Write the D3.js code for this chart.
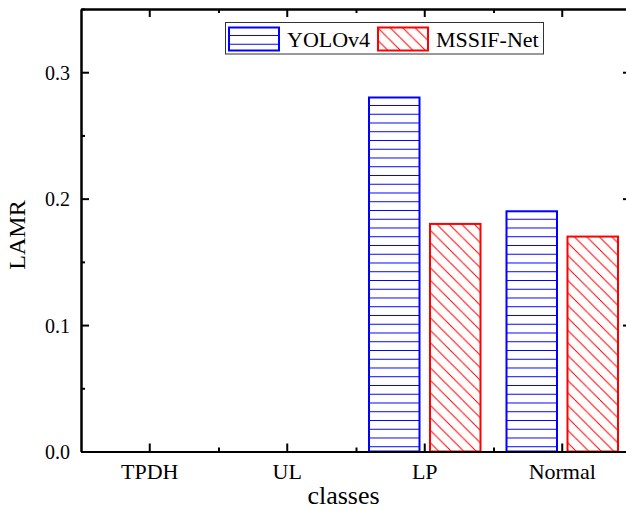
<!DOCTYPE html>
<html><head><meta charset="utf-8">
<script src="https://cdn.jsdelivr.net/npm/d3@7"></script>
<style>body{margin:0;background:#fff}svg{display:block}</style>
</head><body>
<script>
const categories = ["TPDH", "UL", "LP", "Normal"];
const seriesNames = ["YOLOv4", "MSSIF-Net"];
const yolov4 = [0, 0, 0.28, 0.19];
const mssif = [0, 0, 0.18, 0.17];
const yTicks = [0.0, 0.1, 0.2, 0.3];
const yMinorTicks = [0.05, 0.15, 0.25, 0.35];
const colors = ["#0000ff", "#ff0000"];

(function(){
const FONT = "Liberation Serif, Times New Roman, serif";
const W = 626, H = 511;
const m = {left: 81, right: 631, top: 9, bottom: 451.5};
const svg = d3.select("body").append("svg").attr("width", W).attr("height", H)
  .attr("font-family", FONT);

const defs = svg.append("defs");
const p1 = defs.append("pattern").attr("id", "hatchH").attr("patternUnits", "userSpaceOnUse")
  .attr("width", 10).attr("height", 8.75);
p1.append("line").attr("x1", 0).attr("x2", 10).attr("y1", 0.5).attr("y2", 0.5)
  .attr("stroke", colors[0]).attr("stroke-width", 1);
const p2 = defs.append("pattern").attr("id", "hatchD").attr("patternUnits", "userSpaceOnUse")
  .attr("width", 12.5).attr("height", 12.5);
[[0, 12.5], [-12.5, 0], [12.5, 25]].forEach(([a, b]) => {
  p2.append("line").attr("x1", a).attr("y1", 0).attr("x2", b).attr("y2", 12.5)
    .attr("stroke", colors[1]).attr("stroke-width", 1);
});
const fills = ["url(#hatchH)", "url(#hatchD)"];

const x = d3.scaleBand().domain(categories).range([m.left, m.right]);
const x1 = d3.scaleBand().domain(seriesNames).range([13, x.bandwidth() - 13]).paddingInner(0.172);
const y = d3.scaleLinear().domain([0, 0.35]).range([m.bottom, m.top]);

const data = categories.map((c, i) => ({cat: c, vals: [yolov4[i], mssif[i]]}));

const g = svg.append("g");
data.forEach(d => {
  d.vals.forEach((v, s) => {
    if (v <= 0) return;
    g.append("rect")
      .attr("x", x(d.cat) + x1(seriesNames[s]))
      .attr("y", y(v))
      .attr("width", x1.bandwidth())
      .attr("height", y(0) - y(v))
      .attr("fill", fills[s])
      .attr("stroke", colors[s]).attr("stroke-width", 2);
  });
});

const fmt = d3.format(".1f");
const axB = svg.append("g").attr("transform", `translate(0,${m.bottom})`)
  .call(d3.axisBottom(x).tickSizeInner(-8).tickSizeOuter(0).tickPadding(12));
svg.append("g").attr("transform", `translate(0,${m.top})`)
  .call(d3.axisTop(x).tickSizeInner(-8).tickSizeOuter(0).tickFormat(""));
const axL = svg.append("g").attr("transform", `translate(${m.left},0)`)
  .call(d3.axisLeft(y).tickValues(yTicks).tickFormat(fmt).tickSizeInner(-8).tickSizeOuter(0).tickPadding(11));
svg.append("g").attr("transform", `translate(${m.right},0)`)
  .call(d3.axisRight(y).tickValues(yTicks).tickFormat("").tickSizeInner(-8).tickSizeOuter(0));

const bounds = categories.slice(1).map(c => x(c));
const lin = d3.scaleLinear().domain([m.left, m.right]).range([m.left, m.right]);
svg.append("g").attr("transform", `translate(0,${m.bottom})`)
  .call(d3.axisBottom(lin).tickValues(bounds).tickSizeInner(-4).tickSizeOuter(0).tickFormat(""));
svg.append("g").attr("transform", `translate(0,${m.top})`)
  .call(d3.axisTop(lin).tickValues(bounds).tickSizeInner(-4).tickSizeOuter(0).tickFormat(""));
svg.append("g").attr("transform", `translate(${m.left},0)`)
  .call(d3.axisLeft(y).tickValues(yMinorTicks).tickSizeInner(-4).tickSizeOuter(0).tickFormat(""));
svg.append("g").attr("transform", `translate(${m.right},0)`)
  .call(d3.axisRight(y).tickValues(yMinorTicks).tickSizeInner(-4).tickSizeOuter(0).tickFormat(""));

svg.selectAll("g").attr("font-family", FONT);
svg.selectAll(".domain").attr("stroke", "#000").attr("stroke-width", 2);
svg.selectAll(".tick line").attr("stroke", "#000").attr("stroke-width", 2);
axB.selectAll(".tick text").attr("font-size", 22).attr("fill", "#000");
axL.selectAll(".tick text").attr("font-size", 20).attr("fill", "#000").attr("dy", "0.35em");

svg.append("text").attr("x", 343.5).attr("y", 504).attr("text-anchor", "middle")
  .attr("font-size", 26).attr("fill", "#000").text("classes");
svg.append("text").attr("transform", `translate(25,235) rotate(-90)`).attr("text-anchor", "middle")
  .attr("font-size", 24).attr("fill", "#000").text("LAMR");

const lg = svg.append("g").attr("font-family", FONT);
lg.append("rect").attr("x", 225.5).attr("y", 22.5).attr("width", 318).attr("height", 31.5)
  .attr("fill", "#fff").attr("stroke", "#333").attr("stroke-width", 1);
const lx = [228, 377];
seriesNames.forEach((s, i) => {
  lg.append("rect").attr("x", lx[i] + 1).attr("y", 27.5).attr("width", 50).attr("height", 23)
    .attr("fill", fills[i]).attr("stroke", colors[i]).attr("stroke-width", 2);
  lg.append("text").attr("x", lx[i] + 59).attr("y", 47).attr("font-size", 22).attr("fill", "#000").text(s);
});
})();
</script>
</body></html>
